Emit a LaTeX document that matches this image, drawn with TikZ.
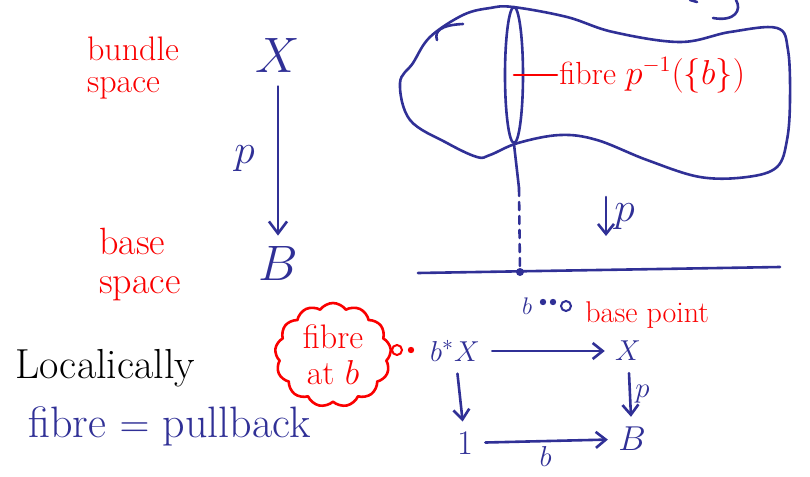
\documentclass[tikz,border=0pt]{standalone}
\usepackage{amsmath,amssymb}
\definecolor{inkblue}{RGB}{48,48,150}
\definecolor{inkred}{RGB}{250,0,0}
\usepackage{tikz}
\usetikzlibrary{arrows.meta,positioning,shapes.geometric,shapes.symbols,calc}

\begin{document}
\begin{tikzpicture}[x=0.5pt, y=-0.5pt,
  ink/.style={draw=inkblue, line width=1.3pt, line cap=round, line join=round},
  rink/.style={draw=inkred, line width=1.3pt, line cap=round, line join=round},
  rnote/.style={text=inkred, align=left, inner sep=1pt},
  obj/.style={text=inkblue, inner sep=1pt},
  harr/.style={ink, -{Straight Barb[length=6pt, width=9pt]}},
  sarr/.style={ink, -{Straight Barb[length=5pt, width=8pt]}, shorten <=5pt, shorten >=4pt}
]
\useasboundingbox (0,0) rectangle (810,477);

% Left column
\node[rnote, font=\fontsize{17}{16}\selectfont] (bunsp) at (133,68) {bundle\\space};
\node[rnote, font=\fontsize{19}{19.5}\selectfont] (bassp) at (140,265) {base\\space};
\node[obj, font=\fontsize{25}{25}\selectfont] (X1) at (278,55) {$X$};
\node[obj, font=\fontsize{25}{25}\selectfont] (B1) at (278,263) {$B$};
\draw[harr, shorten <=6pt, shorten >=4pt] (X1) -- node[obj, left=10pt, font=\fontsize{22}{22}\selectfont] (p1) {$p$} (B1);

% Bundle space
\draw[ink] plot[smooth cycle, tension=0.6] coordinates {
  (513,7) (567,17) (613,32) (680,42) (730,32) (777,28) (788,50) (790,100)
  (787,140) (777,167) (747,177) (700,177) (647,160) (597,140) (560,135)
  (518,143) (490,155) (477,157) (447,143) (410,120) (400,83) (413,63)
  (430,37) (463,15) (490,8)};
\draw[ink] (437,40) .. controls (434,31) and (441,25) .. (463,24);
\draw[ink] (713,18) .. controls (735,22) and (742,10) .. (736,0);
\draw[ink] (690,0) -- (697,2);
\node[ellipse, ink, minimum width=9pt, minimum height=68pt, inner sep=0pt] (fibre) at (514,75) {};
\node[rnote, font=\fontsize{16}{16}\selectfont, anchor=west] (fiblbl) at (557,75) {fibre $p^{-1}(\{b\})$};
\draw[rink] (fibre.center) -- (fiblbl.west);

% Base space
\coordinate (bpt) at (520,272);
\coordinate (dsh) at (519,188);
\draw[ink] (fibre.south) -- (dsh);
\draw[ink, dashed, dash pattern=on 4pt off 3pt] (dsh) -- (bpt);
\draw[ink] (418,273) -- (780,267);
\fill[inkblue] (bpt) circle (2pt);
\coordinate (ptop) at (606,197);
\coordinate (pbot) at (606,236);
\draw[ink, -{Straight Barb[length=5pt, width=8pt]}] (ptop) -- (pbot);
\node[obj, font=\fontsize{20}{20}\selectfont, right=3pt] (p2) at ($(ptop)!0.5!(pbot)$) {$p$};

% Base point
\node[obj, font=\fontsize{12}{12}\selectfont] (bb) at (527,306) {$b$};
\fill[inkblue] (543,302) circle (1.6pt) (553,302) circle (1.6pt);
\draw[inkblue, line width=1pt] (566,306) circle (2.5pt);
\node[rnote, font=\fontsize{15}{15}\selectfont, anchor=base west] (bplbl) at (583,322) {base point};

% Pullback square
\node[obj, font=\fontsize{15}{15}\selectfont] (pb) at (455,351) {$b^*X$};
\node[obj, font=\fontsize{15}{15}\selectfont] (X2) at (628,351) {$X$};
\node[obj, font=\fontsize{16}{16}\selectfont] (one) at (465,443) {$1$};
\node[obj, font=\fontsize{16}{16}\selectfont] (B2) at (632,439) {$B$};
\draw[sarr] (pb) -- (X2);
\draw[sarr] (pb) -- (one);
\draw[sarr] (X2) -- node[obj, right=1pt, font=\fontsize{14}{14}\selectfont] (p3) {$p$} (B2);
\draw[sarr] (one) -- node[obj, below=1pt, font=\fontsize{14}{14}\selectfont] (b3) {$b$} (B2);

% Fibre at b
\node[cloud, rink, cloud puffs=13, cloud puff arc=110, aspect=1.2,
      minimum width=58pt, minimum height=52pt, inner sep=0pt,
      text=inkred, align=center, font=\fontsize{17}{18}\selectfont] (fibat) at (333,355) {fibre\\at $b$};
\draw[inkred, line width=1pt] (397,350) circle (2.5pt);
\fill[inkred] (411,350) circle (1.6pt);

% Localically
\node[anchor=base west, inner sep=0pt, font=\fontsize{21}{21}\selectfont] (loc) at (15,378) {Localically};
\node[obj, anchor=base west, inner sep=0pt, font=\fontsize{22}{22}\selectfont] (fpb) at (28,437) {fibre $=$ pullback};
\end{tikzpicture}
\end{document}
